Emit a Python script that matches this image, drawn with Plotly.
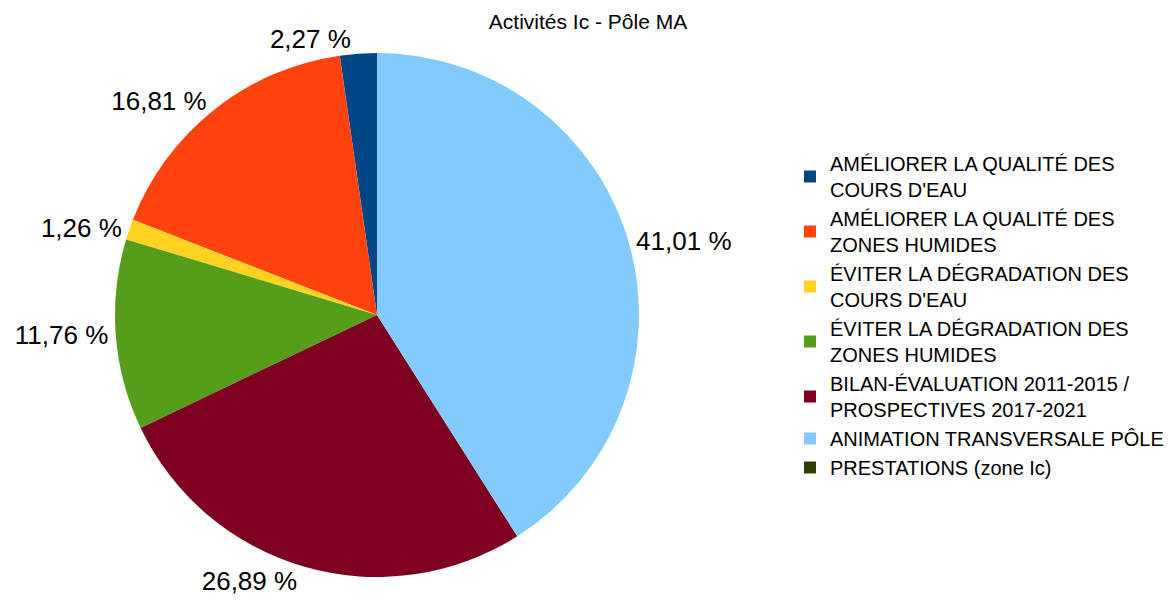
import plotly.graph_objects as go

labels = [
    "AMÉLIORER LA QUALITÉ DES<br>COURS D'EAU",
    "AMÉLIORER LA QUALITÉ DES<br>ZONES HUMIDES",
    "ÉVITER LA DÉGRADATION DES<br>COURS D'EAU",
    "ÉVITER LA DÉGRADATION DES<br>ZONES HUMIDES",
    "BILAN-ÉVALUATION 2011-2015 /<br>PROSPECTIVES 2017-2021",
    "ANIMATION TRANSVERSALE PÔLE",
    "PRESTATIONS (zone Ic)",
]
values = [2.27, 16.81, 1.26, 11.76, 26.89, 41.01, 0.0]
colors = ["#004586", "#ff420e", "#ffd320", "#579d1c", "#7e0021", "#83caff", "#314004"]
text_labels = [("%.2f %%" % v).replace(".", ",") if v > 0 else "" for v in values]

W, H = 1173, 603
cx, cy, r = 369, 307, 262

fig = go.Figure(go.Pie(
    labels=labels,
    values=values,
    text=text_labels,
    textinfo="text",
    textposition="outside",
    sort=False,
    direction="counterclockwise",
    rotation=-values[0] / sum(values) * 360,
    marker=dict(colors=colors, line=dict(width=0)),
    textfont=dict(family="Liberation Sans", size=26, color="#000000"),
    domain=dict(x=[(cx - r) / W, (cx + r) / W], y=[(H - cy - r) / H, (H - cy + r) / H]),
    showlegend=True,
))

fig.update_layout(
    width=W, height=H,
    margin=dict(l=0, r=0, t=0, b=0),
    paper_bgcolor="white",
    plot_bgcolor="white",
    font=dict(family="Liberation Sans", color="#000000"),
    title=dict(text="Activités Ic - Pôle MA", x=580 / W, xanchor="center", y=1 - 14 / H, yanchor="middle",
               font=dict(family="Liberation Sans", size=21, color="#000000")),
    legend=dict(x=782 / W, xanchor="left", y=1 - 136 / H, yanchor="top",
                font=dict(family="Liberation Sans", size=20, color="#000000"),
                itemwidth=30, traceorder="normal"),
)

fig.write_html("out.html")
